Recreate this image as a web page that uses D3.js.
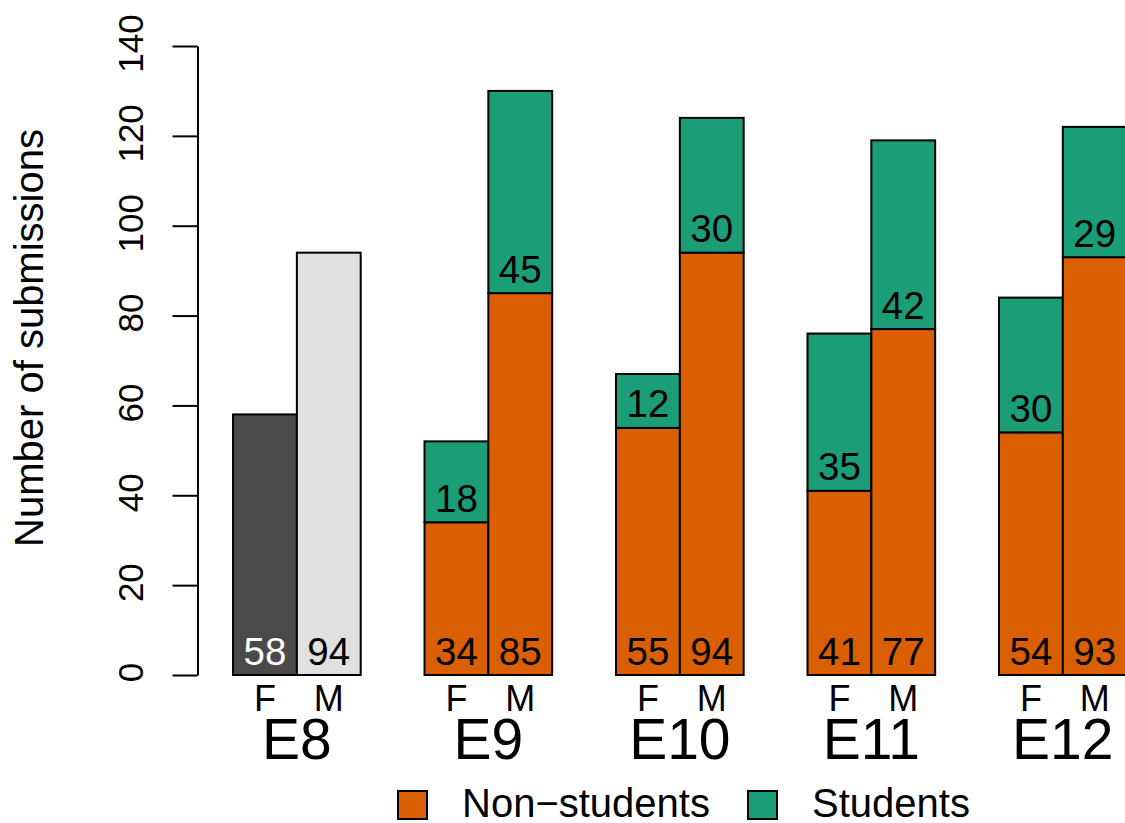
<!DOCTYPE html>
<html>
<head>
<meta charset="utf-8">
<script src="https://cdn.jsdelivr.net/npm/d3@7"></script>
<style>
    html, body { margin: 0; padding: 0; background: #fff; }
    #chart { width: 1125px; height: 823px; }
    text { font-family: "Liberation Sans", Arial, Helvetica, sans-serif; }
</style>
</head>
<body>
<div id="chart"></div>
<script>
// data
var editions = ['E8', 'E9', 'E10', 'E11', 'E12'];
var genders = ['F', 'M'];
var e8Totals = [58, 94];            // E8 has no student split
var nonStudentsF = [34, 55, 41, 54]; // E9..E12
var nonStudentsM = [85, 94, 77, 93];
var studentsF = [18, 12, 35, 30];
var studentsM = [45, 30, 42, 29];
var yTicks = [0, 20, 40, 60, 80, 100, 120, 140];
var legendLabels = ['Non\u2212students', 'Students'];

function Chart() {
    this.config = {
        width: 1125,
        height: 823,
        y: { top: 46, bottom: 675, max: 140 },
        x: { left: 169.2, unit: 63.83, slots: 15 },
        colors: {
            non: '#d95f02',
            stu: '#1b9e77',
            e8: ['#4a4a4a', '#e0e0e0'],
            e8Text: ['#ffffff', '#000000']
        }
    };
    this.svg = null;
}

Chart.prototype.init = function(element) {
    var c = this.config;
    this.svg = d3.select(element).append('svg')
        .attr('width', c.width)
        .attr('height', c.height);
    this.y = d3.scaleLinear().domain([0, c.y.max]).range([c.y.bottom, c.y.top]);
    this.x = d3.scaleLinear().domain([0, c.x.slots]).range([c.x.left, c.x.left + c.x.slots * c.x.unit]);
};

Chart.prototype.draw = function() {
    this.drawAxis();
    this.drawBars();
    this.drawLabels();
    this.drawLegend();
};

Chart.prototype.drawAxis = function() {
    var axisX = 197.5;
    var g = this.svg.append('g')
        .attr('transform', 'translate(' + axisX + ',0)')
        .call(d3.axisLeft(this.y).tickValues(yTicks).tickSize(25).tickSizeOuter(0).tickFormat(d3.format('d')));
    g.attr('font-family', null).attr('font-size', null);
    g.select('.domain').attr('stroke', '#000').attr('stroke-width', 2);
    g.selectAll('.tick line').attr('stroke', '#000').attr('stroke-width', 2);
    g.selectAll('.tick text')
        .attr('x', 0)
        .attr('dy', 0)
        .attr('fill', '#000')
        .attr('text-anchor', 'middle')
        .attr('transform', 'translate(-55,-3) rotate(-90)')
        .style('font-size', '35px');

    this.svg.append('text')
        .attr('transform', 'translate(43,338) rotate(-90)')
        .attr('text-anchor', 'middle')
        .style('font-size', '40px')
        .text('Number of submissions');
};

// slot index of a bar: every group has one empty slot in front
Chart.prototype.slot = function(g, j) {
    return g * 3 + 1 + j;
};

Chart.prototype.drawBars = function() {
    var self = this,
        c = this.config,
        x = this.x,
        y = this.y,
        bars = [];

    e8Totals.forEach(function(v, j) {
        bars.push({ g: 0, j: j, y0: 0, y1: v, fill: c.colors.e8[j] });
    });
    for (var i = 0; i < nonStudentsF.length; i++) {
        var non = [nonStudentsF[i], nonStudentsM[i]],
            stu = [studentsF[i], studentsM[i]];
        for (var j = 0; j < 2; j++) {
            bars.push({ g: i + 1, j: j, y0: 0, y1: non[j], fill: c.colors.non });
            bars.push({ g: i + 1, j: j, y0: non[j], y1: non[j] + stu[j], fill: c.colors.stu });
        }
    }

    this.svg.append('g').selectAll('rect')
        .data(bars)
        .enter().append('rect')
        .attr('x', function(d) { return x(self.slot(d.g, d.j)); })
        .attr('width', function(d) { return x(self.slot(d.g, d.j) + 1) - x(self.slot(d.g, d.j)); })
        .attr('y', function(d) { return y(d.y1); })
        .attr('height', function(d) { return y(d.y0) - y(d.y1); })
        .attr('fill', function(d) { return d.fill; })
        .attr('stroke', '#000')
        .attr('stroke-width', 2);
};

Chart.prototype.drawLabels = function() {
    var self = this,
        c = this.config,
        x = this.x,
        y = this.y,
        labels = [];

    e8Totals.forEach(function(v, j) {
        labels.push({ g: 0, j: j, base: 0, text: v, fill: c.colors.e8Text[j] });
    });
    for (var i = 0; i < nonStudentsF.length; i++) {
        var non = [nonStudentsF[i], nonStudentsM[i]],
            stu = [studentsF[i], studentsM[i]];
        for (var j = 0; j < 2; j++) {
            labels.push({ g: i + 1, j: j, base: 0, text: non[j], fill: '#000' });
            labels.push({ g: i + 1, j: j, base: non[j], text: stu[j], fill: '#000' });
        }
    }

    var mid = function(g, j) { return x(self.slot(g, j) + 0.5); };

    this.svg.append('g').selectAll('text')
        .data(labels)
        .enter().append('text')
        .attr('x', function(d) { return mid(d.g, d.j); })
        .attr('y', function(d) { return y(d.base) - 10.5; })
        .attr('text-anchor', 'middle')
        .attr('fill', function(d) { return d.fill; })
        .style('font-size', '38.5px')
        .text(function(d) { return d.text; });

    // F / M under each bar, edition under each pair
    var under = this.svg.append('g');
    editions.forEach(function(e, g) {
        genders.forEach(function(s, j) {
            under.append('text')
                .attr('x', mid(g, j))
                .attr('y', 711)
                .attr('text-anchor', 'middle')
                .style('font-size', '36px')
                .text(s);
        });
        under.append('text')
            .attr('x', x(self.slot(g, 1)))
            .attr('y', 759)
            .attr('text-anchor', 'middle')
            .style('font-size', '57px')
            .text(e);
    });
};

Chart.prototype.drawLegend = function() {
    var c = this.config,
        fills = [c.colors.non, c.colors.stu],
        boxX = [398, 748],
        legend = this.svg.append('g');

    legendLabels.forEach(function(l, i) {
        legend.append('rect')
            .attr('x', boxX[i])
            .attr('y', 791)
            .attr('width', 29)
            .attr('height', 28)
            .attr('fill', fills[i])
            .attr('stroke', '#000')
            .attr('stroke-width', 2);
        legend.append('text')
            .attr('x', boxX[i] + 64)
            .attr('y', 817)
            .style('font-size', '40px')
            .text(l);
    });
};

var chart = new Chart();
chart.init(document.getElementById('chart'));
chart.draw();
</script>
</body>
</html>
